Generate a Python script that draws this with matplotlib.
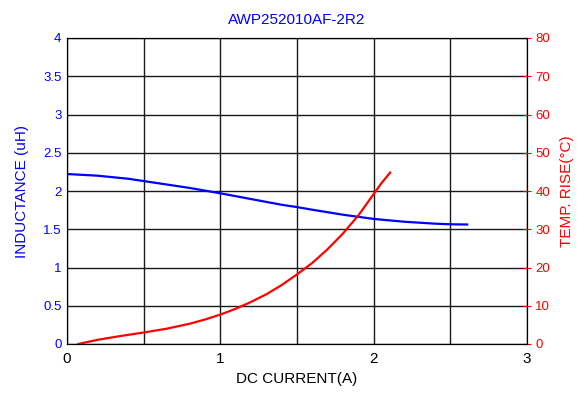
import matplotlib
matplotlib.use("Agg")
import matplotlib.pyplot as plt
import numpy as np

plt.rcParams['font.family'] = ['Liberation Sans', 'DejaVu Sans']

title = "AWP252010AF-2R2"
ind_x = [0.0, 0.2, 0.4, 0.5, 0.6, 0.8, 1.0, 1.2, 1.4, 1.5, 1.6, 1.8, 2.0, 2.2, 2.4, 2.5, 2.61]
ind_y = [2.222, 2.20, 2.16, 2.13, 2.10, 2.04, 1.97, 1.895, 1.82, 1.79, 1.755, 1.69, 1.635, 1.598, 1.573, 1.565, 1.562]
temp_x = [0.074, 0.2, 0.35, 0.5, 0.65, 0.8, 0.9, 1.0, 1.1, 1.2, 1.3, 1.4, 1.5, 1.6, 1.7, 1.8, 1.9, 2.0, 2.05, 2.107]
temp_y = [0.0, 1.1, 2.1, 3.0, 4.0, 5.3, 6.4, 7.7, 9.2, 11.0, 13.0, 15.4, 18.2, 21.2, 24.8, 28.9, 33.6, 39.2, 42.0, 44.8]

fig = plt.figure(figsize=(5.84, 4.01), dpi=100)
ax = fig.add_axes([67/584, 1-344/401, (527-67)/584, (344-38)/401])
ax2 = ax.twinx()

ax.plot(ind_x, ind_y, color='#0000ff', lw=1.6, solid_joinstyle='round')
ax2.plot(temp_x, temp_y, color='#ff0000', lw=1.6, solid_joinstyle='round')

ax.set_xlim(0, 3)
ax.set_ylim(0, 4)
ax2.set_ylim(0, 80)
ax.set_xticks(np.arange(0, 3.01, 0.5))
ax.set_xticklabels(['0', '', '1', '', '2', '', '3'])
ax.set_yticks(np.arange(0, 4.01, 0.5))
ax.set_yticklabels(['0', '0.5', '1', '1.5', '2', '2.5', '3', '3.5', '4'])
ax2.set_yticks(np.arange(0, 81, 10))
ax.grid(True, color='#1a1a1a', lw=1.0)
ax.tick_params(axis='x', length=0, labelsize=11, pad=6)
ax.tick_params(axis='y', length=0, colors='#0000ff', labelsize=9.5, pad=4)
ax2.tick_params(axis='y', direction='inout', length=6, colors='#ff0000', labelsize=9.5, pad=3)
for s in ax.spines.values():
    s.set_color('black')
ax2.spines['right'].set_color('black')

ax.set_title(title, color='#0000ff', fontsize=11, pad=10)
ax.set_xlabel("DC CURRENT(A)", fontsize=11, labelpad=4)
ax.set_ylabel("INDUCTANCE (uH)", color='#0000ff', fontsize=11, labelpad=10)
ax2.set_ylabel("TEMP. RISE(\u00b0C)", color='#ff0000', fontsize=11, labelpad=7)

fig.savefig("out.png", dpi=100)
